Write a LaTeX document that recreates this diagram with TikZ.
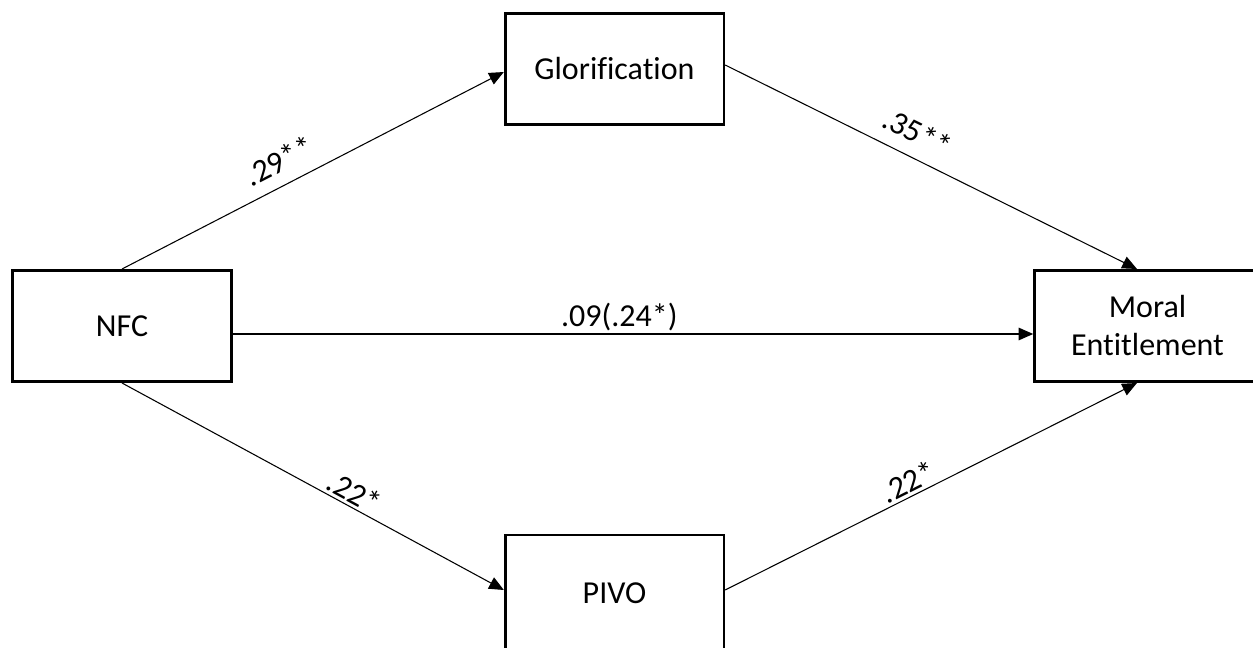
\documentclass[tikz,border=0pt]{standalone}
\usepackage{fontspec}
\setmainfont{Carlito}[Ligatures={NoCommon}]
\usetikzlibrary{arrows.meta}
\begin{document}
\begin{tikzpicture}[x=0.75pt,y=-0.75pt,
  box/.style={draw,line width=2pt,minimum width=164pt,minimum height=83.5pt,inner sep=0pt,align=center,font=\fontsize{24}{28.5}\selectfont},
  conn/.style={line width=0.8pt,-{Triangle[length=11pt,width=9.5pt]}},
  lab/.style={font=\fontsize{24}{28}\selectfont,sloped,anchor=south,inner sep=2pt}]
\clip (0,0) rectangle (1253,648);
\node[box] (nfc) at (122,326) {NFC};
\node[box] (glor) at (614.5,69) {Glorification};
\node[box,minimum height=87pt] (pivo) at (614.5,593) {PIVO};
\node[box,minimum width=169.5pt] (me) at (1147.5,326) {Moral\\Entitlement};
\draw[conn] (nfc.north) -- node[lab,pos=0.44,inner ysep=9pt] {.29**} ([yshift=-2.25pt]glor.west);
\draw[conn] ([yshift=3pt]glor.east) -- node[lab,pos=0.44,inner ysep=10pt] {.35**} ([xshift=-7.9pt]me.north);
\draw[conn] (nfc.south) -- node[lab,pos=0.59] {.22*} ([yshift=2.25pt]pivo.west);
\draw[conn] ([yshift=2.25pt]pivo.east) -- node[lab,pos=0.46] {.22*} ([xshift=-7.9pt]me.south);
\draw[conn] ([yshift=-6pt]nfc.east) -- node[lab,pos=0.483] {.09(.24*)} ([yshift=-6pt]me.west);
\end{tikzpicture}
\end{document}
